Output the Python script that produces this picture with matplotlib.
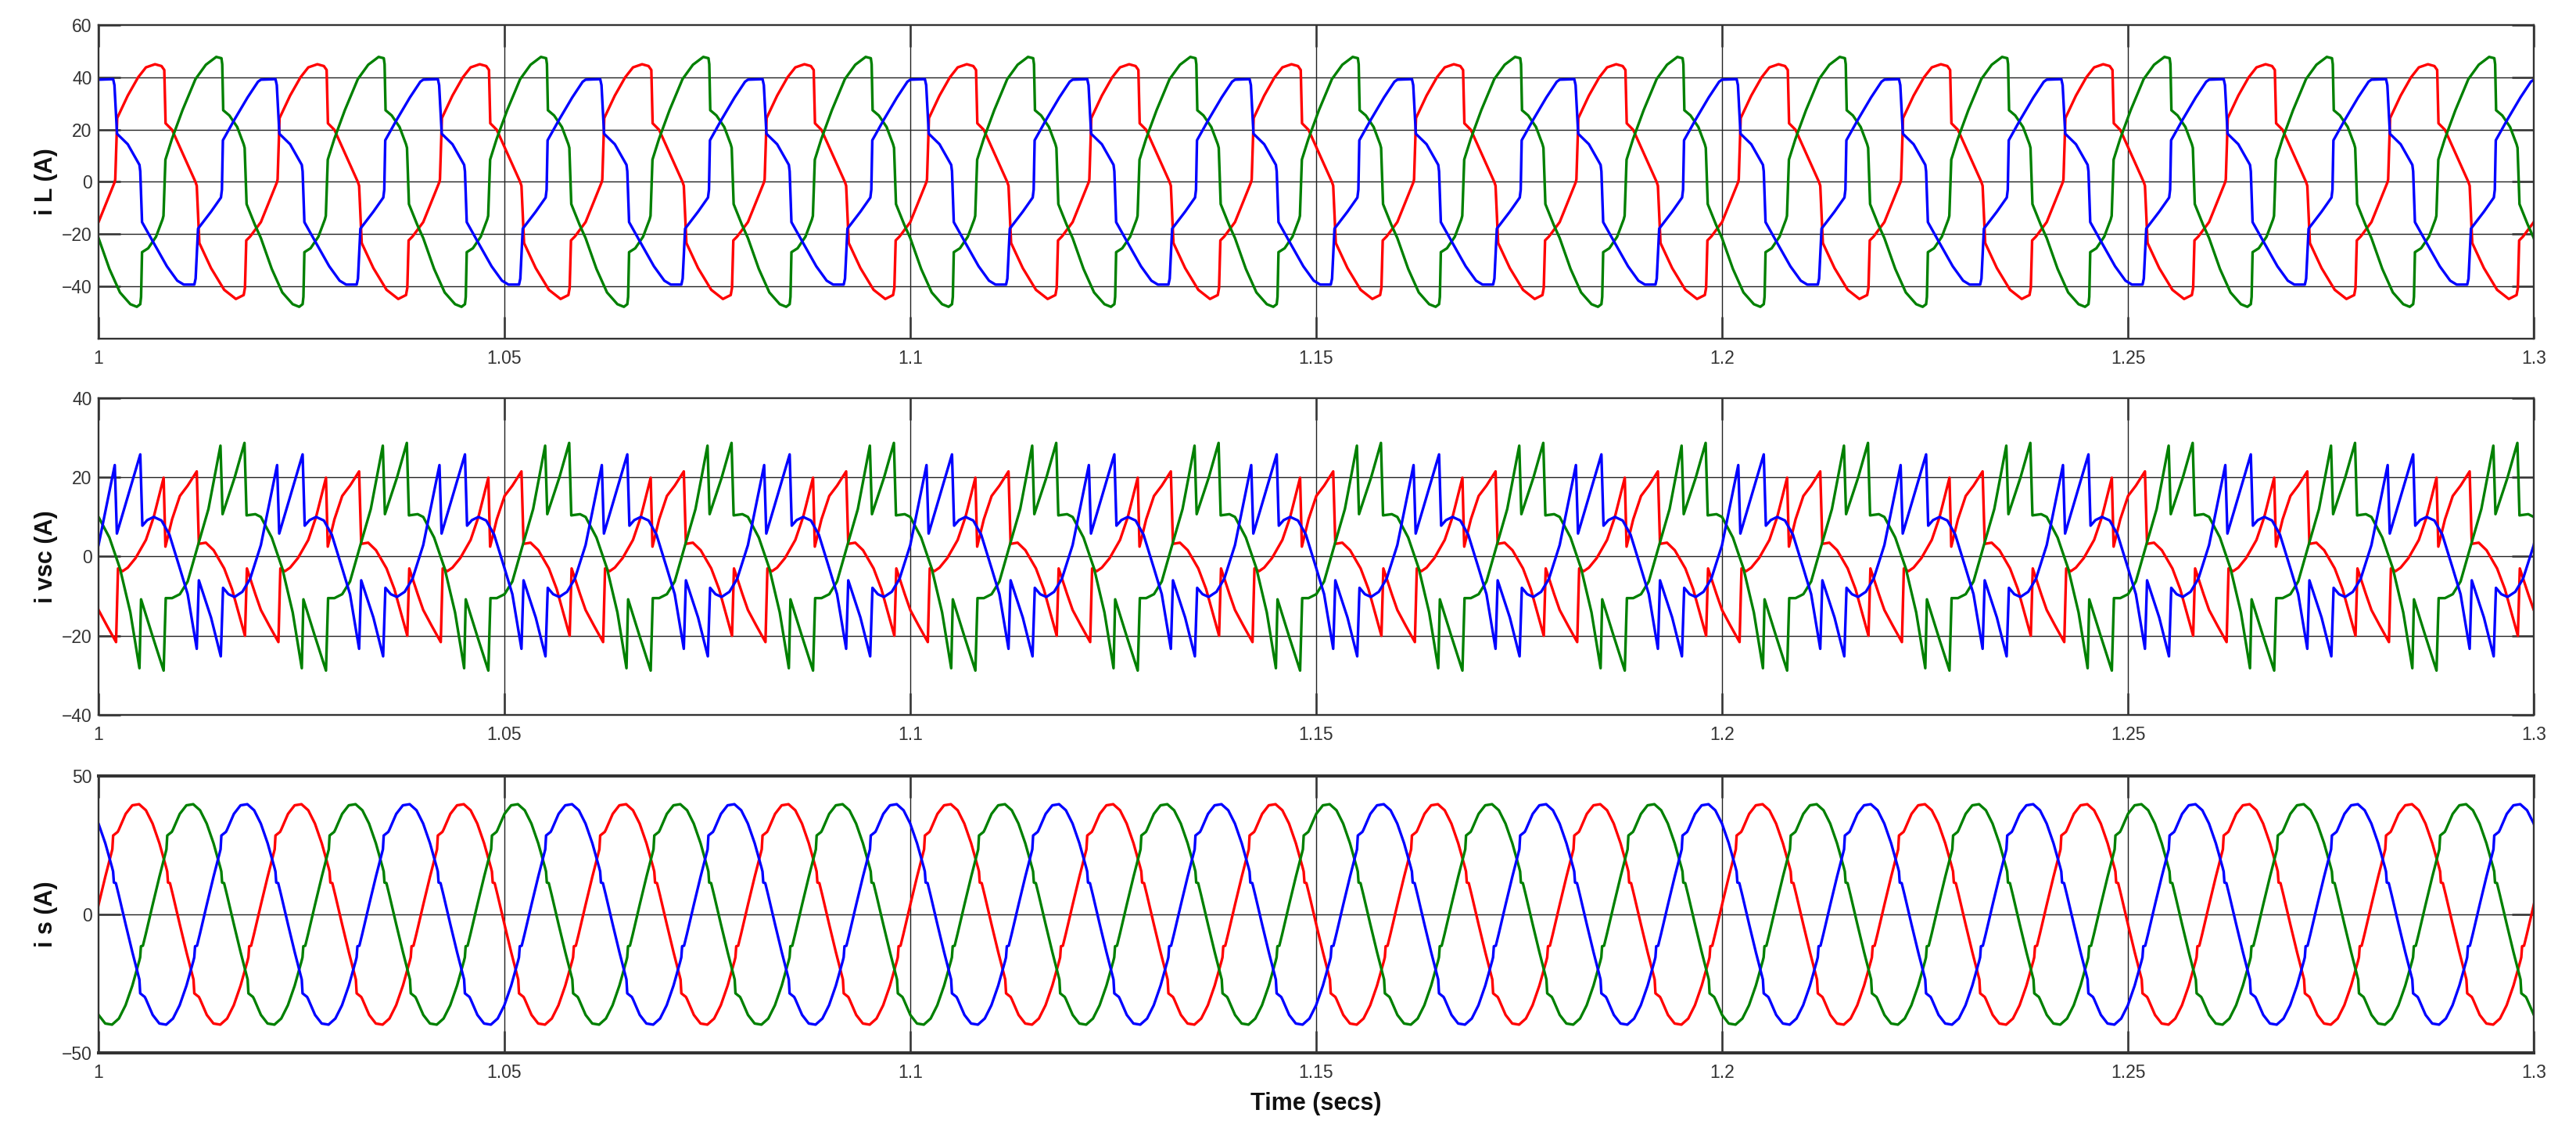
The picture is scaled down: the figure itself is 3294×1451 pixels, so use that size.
import numpy as np
import matplotlib
matplotlib.use('Agg')
import matplotlib.pyplot as plt

plt.rcParams['font.family'] = ['Liberation Sans', 'DejaVu Sans']

# ---- data: one 50 Hz period per phase (phase = fraction of period)
T0, T_END, PERIOD = 1.0, 1.3, 0.02

# load current i L
iLa_phi = [0.000, 0.100, 0.103, 0.115, 0.180, 0.244, 0.292, 0.348, 0.388, 0.405, 0.413,
           0.453, 0.597, 0.605, 0.621, 0.693, 0.774, 0.846, 0.894, 0.902, 0.910, 0.934]
iLa_val = [-15.4, 0.0, 1.0, 24.4, 33.0, 40.0, 43.8, 45.0, 44.3, 42.8, 22.4,
           19.9, 0.0, -1.5, -23.4, -33.0, -41.3, -44.8, -43.3, -40.5, -22.4, -20.9]
iLb_phi = [0.000, 0.067, 0.132, 0.196, 0.236, 0.257, 0.262, 0.268, 0.306, 0.354, 0.394,
           0.400, 0.412, 0.452, 0.517, 0.597, 0.661, 0.725, 0.757, 0.762, 0.768, 0.806,
           0.854, 0.894, 0.900, 0.912, 0.963]
iLb_val = [-21.5, -33.3, -42.3, -46.8, -47.8, -46.8, -44.0, -26.9, -25.4, -21.0, -14.4,
           -13.0, 8.5, 16.4, 27.4, 39.3, 44.8, 47.8, 47.3, 45.0, 27.4, 25.4,
           21.0, 14.4, 13.0, -8.5, -16.4]
iLc_phi = [0.000, 0.090, 0.098, 0.114, 0.180, 0.252, 0.257, 0.268, 0.340, 0.421, 0.485,
           0.525, 0.590, 0.598, 0.613, 0.693, 0.754, 0.760, 0.766, 0.838, 0.918, 0.982]
iLc_val = [39.1, 39.3, 37.0, 18.4, 14.4, 6.5, 4.0, -15.4, -23.4, -32.3, -37.8,
           -39.3, -39.3, -37.0, -17.9, -11.4, -6.0, -3.0, 15.9, 23.9, 32.3, 38.3]

# converter current i vsc
ivA_phi = [0.000, 0.051, 0.108, 0.120, 0.148, 0.180, 0.228, 0.292, 0.340, 0.401, 0.412,
           0.453, 0.501, 0.549, 0.605, 0.618, 0.661, 0.709, 0.774, 0.822, 0.902, 0.914, 0.966]
ivA_val = [-13.5, -17.4, -21.6, -3.0, -3.7, -2.8, -0.4, 4.2, 10.0, 19.9, 2.5,
           9.4, 15.3, 17.9, 21.5, 3.2, 3.5, 1.6, -3.0, -8.2, -20.0, -3.0, -9.5]
ivB_phi = [0.000, 0.067, 0.132, 0.196, 0.252, 0.262, 0.332, 0.401, 0.414, 0.453, 0.501,
           0.549, 0.613, 0.677, 0.751, 0.764, 0.838, 0.899, 0.912, 0.966]
ivB_val = [10.0, 4.8, -3.0, -14.1, -28.2, -10.8, -20.0, -28.8, -10.5, -10.5, -9.5,
           -6.3, 2.9, 12.0, 28.0, 10.7, 19.9, 28.7, 10.4, 10.7]
ivC_phi = [0.000, 0.100, 0.113, 0.257, 0.270, 0.300, 0.340, 0.388, 0.437, 0.501, 0.549,
           0.605, 0.618, 0.693, 0.753, 0.767, 0.800, 0.838, 0.886, 0.934]
ivC_val = [2.9, 23.1, 5.8, 25.8, 7.8, 9.2, 10.0, 9.1, 5.5, -3.0, -9.5,
           -23.3, -6.0, -15.4, -25.2, -7.9, -9.5, -10.2, -8.9, -5.6]

# source current i s (same shape on all phases, shifted by a third of a period)
is_phi = [0.000, 0.042, 0.085, 0.090, 0.118, 0.125, 0.167, 0.208, 0.250, 0.292, 0.333,
          0.375, 0.417, 0.423, 0.428, 0.440, 0.458, 0.500, 0.542, 0.585, 0.590, 0.618,
          0.625, 0.667, 0.708, 0.750, 0.792, 0.833, 0.875, 0.917, 0.923, 0.928, 0.940, 0.958]
is_val = [3.5, 13.7, 23.5, 28.5, 29.8, 30.6, 36.3, 39.4, 39.8, 37.6, 32.8,
          25.7, 16.9, 15.5, 11.5, 11.3, 7.0, -3.5, -13.7, -23.5, -28.5, -29.8,
          -30.6, -36.3, -39.4, -39.8, -37.6, -32.8, -25.7, -16.9, -15.5, -11.5, -11.3, -7.0]
is_shift = [0.0, 1.0 / 3.0, -1.0 / 3.0]

colors = ['#ff0000', '#008000', '#0000ff']
ylabels = ['i L (A)', 'i vsc (A)', 'i s (A)']
ylims = [(-60, 60), (-40, 40), (-50, 50)]
yticks = [[-40, -20, 0, 20, 40, 60], [-40, -20, 0, 20, 40], [-50, 0, 50]]
ygrid = [[-40, -20, 0, 20, 40], [-20, 0, 20], [0]]
xticks = [1, 1.05, 1.1, 1.15, 1.2, 1.25, 1.3]
xticklabels = ['1', '1.05', '1.1', '1.15', '1.2', '1.25', '1.3']


def tile(phi, val, shift=0.0):
    # repeat the one-period trace over the whole window
    p = np.append(np.asarray(phi), 1.0)
    v = np.append(np.asarray(val), val[0])
    t, y = [], []
    for k in range(-1, 16):
        t.append(T0 + (k + p + shift) * PERIOD)
        y.append(v)
    return np.concatenate(t), np.concatenate(y)


panels = [
    [(iLa_phi, iLa_val, 0.0), (iLb_phi, iLb_val, 0.0), (iLc_phi, iLc_val, 0.0)],
    [(ivA_phi, ivA_val, 0.0), (ivB_phi, ivB_val, 0.0), (ivC_phi, ivC_val, 0.0)],
    [(is_phi, is_val, s) for s in is_shift],
]

# ---- figure
fig = plt.figure(figsize=(32.94, 14.51), dpi=100)
L, W = 0.03825, 0.94536
rects = [[L, 0.70159, W, 0.27636], [L, 0.37009, W, 0.27912], [L, 0.07236, W, 0.24397]]

frame = '#333333'
for i, rect in enumerate(rects):
    ax = fig.add_axes(rect)
    for (phi, val, sh), c in zip(panels[i], colors):
        t, y = tile(phi, val, sh)
        ax.plot(t, y, color=c, lw=2.4, solid_joinstyle='round')

    ax.set_xlim(T0, T_END)
    ax.set_ylim(*ylims[i])
    ax.set_xticks(xticks)
    ax.set_xticklabels(xticklabels)
    ax.set_yticks(yticks[i])

    for x in xticks[1:-1]:
        ax.axvline(x, color='#222222', lw=1.0, zorder=0.5)
    for yy in ygrid[i]:
        ax.axhline(yy, color='#222222', lw=1.0, zorder=0.5)

    ax.tick_params(axis='both', direction='in', length=20, width=1.8, color=frame,
                   labelsize=16.5, labelcolor='#333333', right=True, top=True)
    ax.tick_params(axis='x', pad=10)
    ax.tick_params(axis='y', pad=6)
    for sp in ax.spines.values():
        sp.set_linewidth(1.7)
        sp.set_color(frame)
    if i == 2:
        ax.spines['top'].set_linewidth(2.9)
        ax.spines['bottom'].set_linewidth(2.9)

    ax.set_ylabel(ylabels[i], fontsize=22, fontweight='bold', color='#111111')
    ax.yaxis.set_label_coords(-0.0167, 0.5)

    if i == 2:
        ax.set_xlabel('Time (secs)', fontsize=22, fontweight='bold', color='#111111')
        ax.xaxis.set_label_coords(0.5, -0.14)

plt.savefig('out.png', dpi=100)
